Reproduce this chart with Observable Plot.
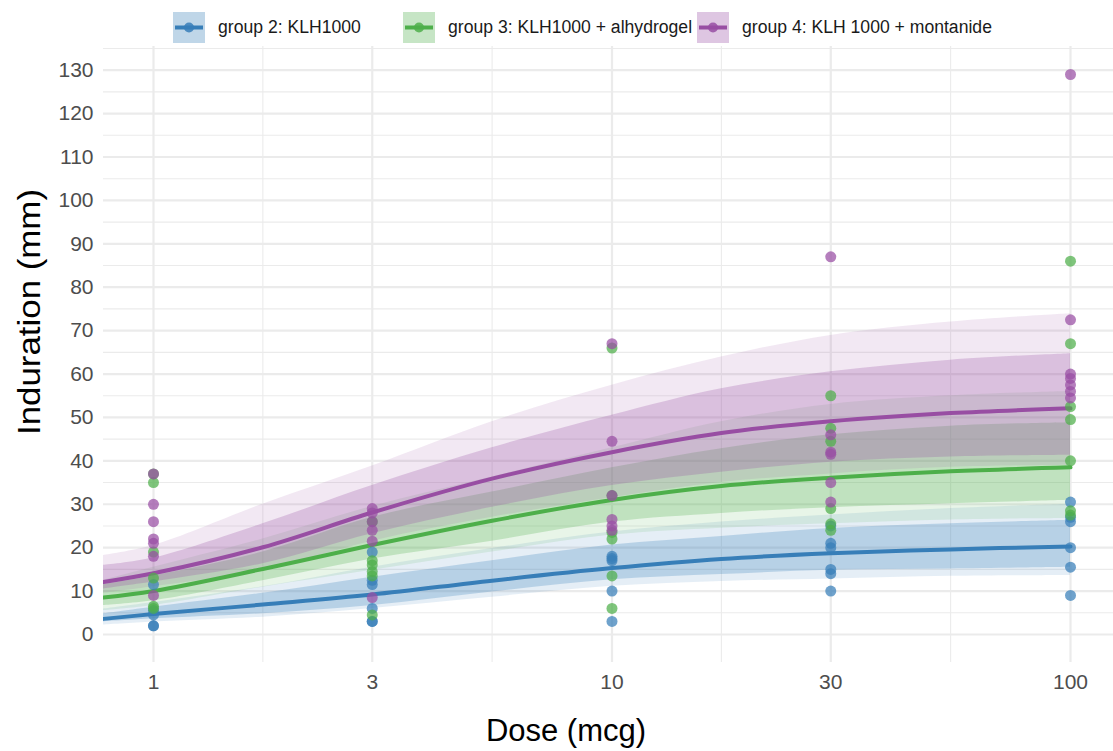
<!DOCTYPE html>
<html><head><meta charset="utf-8">
<script src="https://cdn.jsdelivr.net/npm/d3@7"></script>
<script src="https://cdn.jsdelivr.net/npm/@observablehq/plot@0.6"></script>
<style>
body{margin:0;background:#fff;font-family:"Liberation Sans",Arial,Helvetica,sans-serif;}
#legend{position:relative;height:46px;width:1113px;}
.item{position:absolute;top:12px;display:flex;align-items:center;height:31px;}
.item span{font-size:17.6px;color:#1a1a1a;margin-left:13px;white-space:nowrap;}
</style></head><body>
<div id="legend"></div>
<div id="chart"></div>
<script>
// ---- categories / ticks ----
const groups = ["group 2: KLH1000", "group 3: KLH1000 + alhydrogel", "group 4: KLH 1000 + montanide"];
const colors = ["#377eb8", "#4daf4a", "#984ea3"];
const doses = [1, 3, 10, 30, 100];
const xTicks = [1, 3, 10, 30, 100];
const xMinorTicks = [1.732, 5.477, 17.32, 54.77];
const yTicks = [0,10,20,30,40,50,60,70,80,90,100,110,120,130];
const yMinorTicks = [5,15,25,35,45,55,65,75,85,95,105,115,125,135];

// ---- observed points (per dose, per group) ----
const g2Points = [[11.5,5.5,4.5,2,2],[19,12.5,11.5,6,3,3],[18,17.5,17,10,3],[25,21,20,15,14,10],[30.5,27,26,20,15.5,9]];
const g3Points = [[37,35,19,13,6.5,6],[26,17,16,14.5,13.5,4.5],[66,32,23.5,22,13.5,6],[55,47.5,44.5,29,25.5,24],[86,67,52.5,49.5,40,28.5,27.5]];
const g4Points = [[37,30,26,22,21,18,9],[29,28,26,24,21.5,8.5],[67,44.5,32,26.5,25,24],[87,46,42,41.5,35,30.5],[129,72.5,60,59,57.5,56,54.5]];

// ---- fitted curves and bands ----
const fitDoses = [0.778, 1, 1.732, 3, 5.477, 10, 17.32, 30, 54.77, 100];
const g2Fit  = [3.6, 4.7, 6.9, 9.2, 12.4, 15.3, 17.4, 18.7, 19.6, 20.3];
const g2Lo50 = [2.9, 3.6, 4.8, 6.7, 9.8, 12.6, 13.8, 14.8, 15.1, 15.5];
const g2Hi50 = [4.8, 6.3, 9.5, 13.2, 17.0, 20.6, 22.6, 24.4, 25.5, 26.3];
const g2Lo90 = [2.2, 2.9, 4.0, 6.0, 8.6, 11.1, 12.2, 12.8, 13.4, 13.6];
const g2Hi90 = [5.9, 7.4, 11.0, 15.5, 19.8, 23.6, 25.9, 27.5, 29.0, 30.0];

const g3Fit  = [8.5, 10.0, 15.1, 20.6, 26.2, 31.0, 34.2, 36.1, 37.6, 38.5];
const g3Lo50 = [6.7, 7.8, 12.4, 17.4, 21.5, 25.9, 27.9, 29.2, 30.1, 30.9];
const g3Hi50 = [11.5, 13.5, 19.0, 27.0, 32.8, 38.4, 42.8, 46.0, 48.0, 48.8];
const g3Lo90 = [5.5, 6.7, 10.9, 14.8, 19.0, 22.9, 24.5, 25.5, 26.4, 26.7];
const g3Hi90 = [12.5, 15.5, 22.0, 29.5, 36.3, 43.0, 49.0, 53.0, 55.0, 56.0];

const g4Fit  = [12.1, 14.1, 20.1, 28.1, 35.9, 42.0, 46.4, 49.1, 51.0, 52.1];
const g4Lo50 = [10.5, 12.1, 16.3, 23.2, 29.3, 34.3, 37.4, 39.7, 40.9, 41.3];
const g4Hi50 = [15.9, 17.6, 25.5, 34.3, 43.0, 50.5, 56.6, 60.5, 63.2, 64.7];
const g4Lo90 = [9.5, 11.0, 14.8, 21.5, 27.0, 31.5, 35.0, 37.0, 38.5, 39.0];
const g4Hi90 = [18.2, 20.5, 30.0, 38.8, 49.0, 57.4, 63.9, 68.9, 72.0, 73.9];

// ---- build tables ----
const pointSets = [g2Points, g3Points, g4Points];
const fits = [[g2Fit,g2Lo50,g2Hi50,g2Lo90,g2Hi90],[g3Fit,g3Lo50,g3Hi50,g3Lo90,g3Hi90],[g4Fit,g4Lo50,g4Hi50,g4Lo90,g4Hi90]];
const fitTables = fits.map((f, gi) => fitDoses.map((d, i) => ({group: groups[gi], dose: d, fit: f[0][i], lo50: f[1][i], hi50: f[2][i], lo90: f[3][i], hi90: f[4][i]})));
const pointTables = pointSets.map((ps, gi) => ps.flatMap((vals, di) => vals.map(v => ({group: groups[gi], dose: doses[di], value: v}))));

const curve = "catmull-rom";
const marks = [
  Plot.gridY(yMinorTicks, {stroke: "#ebebeb", strokeOpacity: 1, strokeWidth: 1.1}),
  Plot.gridY(yTicks, {stroke: "#ebebeb", strokeOpacity: 1, strokeWidth: 2.2}),
  Plot.gridX(xMinorTicks, {stroke: "#ebebeb", strokeOpacity: 1, strokeWidth: 1.1}),
  Plot.gridX(xTicks, {stroke: "#ebebeb", strokeOpacity: 1, strokeWidth: 2.2}),
];
fitTables.forEach((t, gi) => {
  marks.push(Plot.areaY(t, {x: "dose", y1: "lo90", y2: "hi90", fill: colors[gi], fillOpacity: 0.13, curve}));
  marks.push(Plot.areaY(t, {x: "dose", y1: "lo50", y2: "hi50", fill: colors[gi], fillOpacity: 0.26, curve}));
});
fitTables.forEach((t, gi) => {
  marks.push(Plot.line(t, {x: "dose", y: "fit", stroke: colors[gi], strokeWidth: 4, curve}));
});
pointTables.forEach((t, gi) => {
  marks.push(Plot.dot(t, {x: "dose", y: "value", r: 5.5, fill: colors[gi], fillOpacity: 0.72, stroke: "none"}));
});
marks.push(Plot.axisY(yTicks, {tickSize: 0, tickPadding: 10, fontSize: 21, fill: "#4d4d4d", label: null}));
marks.push(Plot.axisX(xTicks, {tickSize: 0, tickPadding: 12, fontSize: 21, fill: "#4d4d4d", label: null, tickFormat: d => String(d)}));

const chart = Plot.plot({
  width: 1113, height: 705,
  marginLeft: 103, marginRight: 0, marginTop: 0, marginBottom: 89,
  clip: true,
  style: {fontFamily: "'Liberation Sans', Arial, Helvetica, sans-serif", background: "#fff", overflow: "visible"},
  x: {type: "log", domain: [0.778, 124.1]},
  y: {domain: [-6.45, 135.45]},
  marks
});
document.getElementById("chart").appendChild(chart);

// axis titles
const svg = d3.select(chart);
svg.append("text").attr("x", 566).attr("y", 684).attr("text-anchor", "middle").attr("dy", "0.35em")
  .attr("font-size", 31).attr("fill", "#000").text("Dose (mcg)");
svg.append("text").attr("transform", "translate(29,266) rotate(-90)").attr("text-anchor", "middle").attr("dy", "0.35em")
  .attr("font-size", 32).attr("textLength", 246).attr("lengthAdjust", "spacingAndGlyphs").attr("fill", "#000").text("Induration (mm)");

// legend
const legendLefts = [173, 403, 697];
const leg = document.getElementById("legend");
groups.forEach((g, i) => {
  const div = document.createElement("div");
  div.className = "item";
  div.style.left = legendLefts[i] + "px";
  const light = d3.interpolateRgb("#ffffff", colors[i])(0.32);
  div.innerHTML = `<svg width="32" height="31"><rect width="32" height="31" fill="${light}"/><line x1="2" x2="30" y1="15.5" y2="15.5" stroke="${colors[i]}" stroke-width="4"/><circle cx="16" cy="15.5" r="5" fill="${colors[i]}" fill-opacity="0.85"/></svg><span>${g}</span>`;
  leg.appendChild(div);
});
</script></body></html>
